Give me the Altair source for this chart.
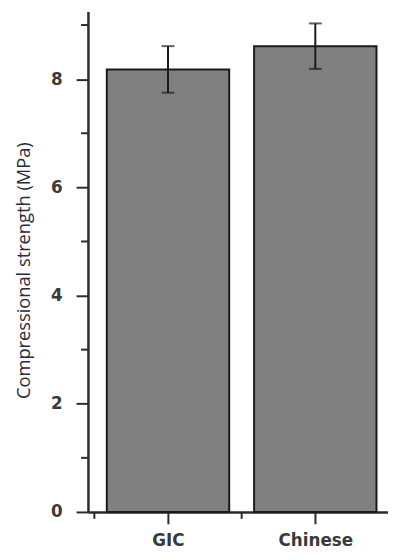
import altair as alt
import pandas as pd

categories = ["GIC", "Chinese"]
positions = [1, 2]
means = [8.18, 8.61]
errors = [0.43, 0.42]
y_major = [0, 2, 4, 6, 8]
y_minor = [1, 3, 5, 7, 9]
x_minor = [0.5, 1.5]

df = pd.DataFrame({"cat": categories, "pos": positions, "mean": means, "err": errors})
df["low"] = df["mean"] - df["err"]
df["high"] = df["mean"] + df["err"]

W, H = 304, 507
xs = alt.Scale(domain=[0.49, 2.46], nice=False, zero=False)
ys = alt.Scale(domain=[0, 9.25], nice=False)
AX = "#2b2b2b"

label_expr = " : ".join(
    [f"datum.value == {p} ? '{c}'" for p, c in zip(positions, categories)]
) + " : ''"

x_axis = alt.Axis(values=positions, labelExpr=label_expr, title=None, grid=False,
                  tickSize=12, tickWidth=2, tickColor=AX, domainColor=AX, domainWidth=2.5,
                  labelFont="DejaVu Sans", labelFontWeight="bold", labelFontSize=17,
                  labelColor="#3a3a3a", labelPadding=9)
y_axis = alt.Axis(values=y_major, title="Compressional strength (MPa)", grid=False,
                  tickSize=12, tickWidth=2, tickColor=AX, domainColor=AX, domainWidth=2.5,
                  labelFont="DejaVu Sans", labelFontWeight="bold", labelFontSize=17,
                  labelColor="#3a3a3a", labelPadding=14,
                  titleFont="Open Sans", titleFontWeight="normal", titleFontSize=18.5,
                  titleColor="#2a2a3a", titleX=-65, titleY=262,
                  titleAlign="center", titleBaseline="middle", titleAngle=270)

base = alt.Chart(df)
bars = base.mark_bar(size=124, fill="#808080", stroke="#1a1a1a", strokeWidth=2).encode(
    x=alt.X("pos:Q", scale=xs, axis=x_axis),
    y=alt.Y("mean:Q", scale=ys, axis=y_axis),
)
err = base.mark_rule(color="#1a1a1a", strokeWidth=2).encode(
    x=alt.X("pos:Q", scale=xs),
    y=alt.Y("low:Q", scale=ys),
    y2="high:Q",
)
cap_lo = base.mark_tick(color="#1a1a1a", thickness=2, size=13, orient="horizontal").encode(
    x=alt.X("pos:Q", scale=xs), y=alt.Y("low:Q", scale=ys))
cap_hi = base.mark_tick(color="#1a1a1a", thickness=2, size=13, orient="horizontal").encode(
    x=alt.X("pos:Q", scale=xs), y=alt.Y("high:Q", scale=ys))

ymin = alt.Chart(pd.DataFrame({"v": y_minor})).mark_rule(color=AX, strokeWidth=2).encode(
    y=alt.Y("v:Q", scale=ys), x=alt.value(-7), x2=alt.value(0))
xmin = alt.Chart(pd.DataFrame({"v": x_minor})).mark_rule(color=AX, strokeWidth=2).encode(
    x=alt.X("v:Q", scale=xs), y=alt.value(H), y2=alt.value(H + 7))

chart = alt.layer(bars, err, cap_lo, cap_hi, ymin, xmin).properties(
    width=W, height=H,
    autosize=alt.AutoSizeParams(type="none"),
    padding={"left": 81, "top": 0, "right": 0, "bottom": 37},
).configure(background="white").configure_view(stroke=None, strokeWidth=0)

chart.save("out.html", embed_options={"renderer": "svg", "actions": False})
